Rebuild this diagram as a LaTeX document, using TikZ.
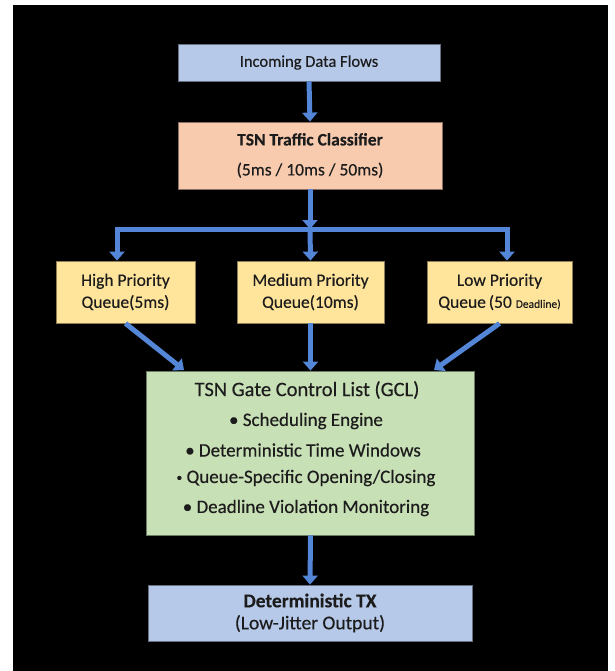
\documentclass[tikz,border=0pt]{standalone}
\usepackage{fontspec}
\setmainfont{Carlito}[FakeBold=0.3]
\usetikzlibrary{arrows.meta}
\definecolor{flowblue}{RGB}{84,134,216}
\definecolor{boxblue}{RGB}{182,201,233}
\definecolor{boxsalmon}{RGB}{248,202,174}
\definecolor{boxyellow}{RGB}{255,228,156}
\definecolor{boxgreen}{RGB}{200,224,182}
\definecolor{inktext}{RGB}{28,28,28}
\tikzset{
  box/.style={draw=#1!55!black, line width=0.8pt, fill=#1, inner sep=0pt,
    align=center, text=inktext},
  flow/.style={draw=flowblue, line width=5pt, line join=miter},
  tip/.style={-{Triangle[width=15pt,length=9pt]}},
}
\begin{document}
\begin{tikzpicture}[x=1pt,y=-1pt]
  % canvas and dark panel
  \fill[white] (0,0) rectangle (614,671);
  \fill[black] (13,5) rectangle (608,671);
  \useasboundingbox (0,0) rectangle (614,671);

  % boxes
  \node[box=boxblue, minimum width=262pt, minimum height=37pt,
        font=\fontsize{16.5}{18}\selectfont] (in) at (309,62.5) {Incoming Data Flows};
  \node[box=boxsalmon, minimum width=264pt, minimum height=67pt,
        font=\fontsize{17.5}{30}\selectfont] (cls) at (310,155.5)
        {\textbf{TSN Traffic Classifier}\\(5ms / 10ms / 50ms)};
  \node[box=boxyellow, minimum width=139pt, minimum height=62pt,
        font=\fontsize{17.5}{22}\selectfont] (hq) at (125.5,292)
        {High Priority\\Queue(5ms)};
  \node[box=boxyellow, minimum width=147pt, minimum height=62pt,
        font=\fontsize{17.5}{22}\selectfont] (mq) at (310.5,292)
        {Medium Priority\\Queue(10ms)};
  \node[box=boxyellow, minimum width=145pt, minimum height=62pt,
        font=\fontsize{17.5}{22}\selectfont] (lq) at (499.5,292)
        {Low Priority\\Queue\,(50 {\fontsize{11.5}{12}\selectfont Deadline)}};
  \node[box=boxgreen, minimum width=328pt, minimum height=164pt] (gcl) at (310.5,453) {};
  \node[box=boxblue, minimum width=324pt, minimum height=56pt,
        font=\fontsize{19.5}{22}\selectfont] (tx) at (310,613)
        {\textbf{Deterministic TX}\\(Low-Jitter Output)};

  % text of the gate control list
  \begin{scope}[every node/.style={text=inktext, inner sep=0pt}]
    \node[font=\fontsize{20.5}{22}\selectfont] (g0) at (307,390) {TSN Gate Control List (GCL)};
    \node[font=\fontsize{19}{22}\selectfont] (g1) at (306,421) {\textbullet\ Scheduling Engine};
    \node[font=\fontsize{19}{22}\selectfont] (g2) at (303,450) {\textbullet\ Deterministic Time Windows};
    \node[font=\fontsize{19}{22}\selectfont] (g3) at (306,478) {\raisebox{0.2ex}{\scalebox{0.6}{\textbullet}} Queue-Specific Opening/Closing};
    \node[font=\fontsize{19}{22}\selectfont] (g4) at (306,508) {\textbullet\ Deadline Violation Monitoring};
  \end{scope}

  % junction points of the distribution bar
  \coordinate (split) at (310,229);
  \coordinate (hl) at (117,229);
  \coordinate (hr) at (507,229);
  \coordinate (gclL) at (184,370);
  \coordinate (gclR) at (434,370);

  % connectors
  \draw[flow,tip] (in.south) -- (cls.north);
  \draw[flow,tip] (cls.south) -- (split);
  \draw[flow,{Triangle[width=15pt,length=9pt]}-{Triangle[width=15pt,length=9pt]}]
    (hq.north -| hl) -- (hl) -- (hr) -- (lq.north -| hr);
  \draw[flow,tip] (split) -- (mq.north);
  \draw[flow,tip] (hq.south) -- (gclL);
  \draw[flow,tip] (mq.south) -- (gcl.north);
  \draw[flow,tip] (lq.south) -- (gclR);
  \draw[flow,tip] (gcl.south) -- (tx.north);
\end{tikzpicture}
\end{document}
